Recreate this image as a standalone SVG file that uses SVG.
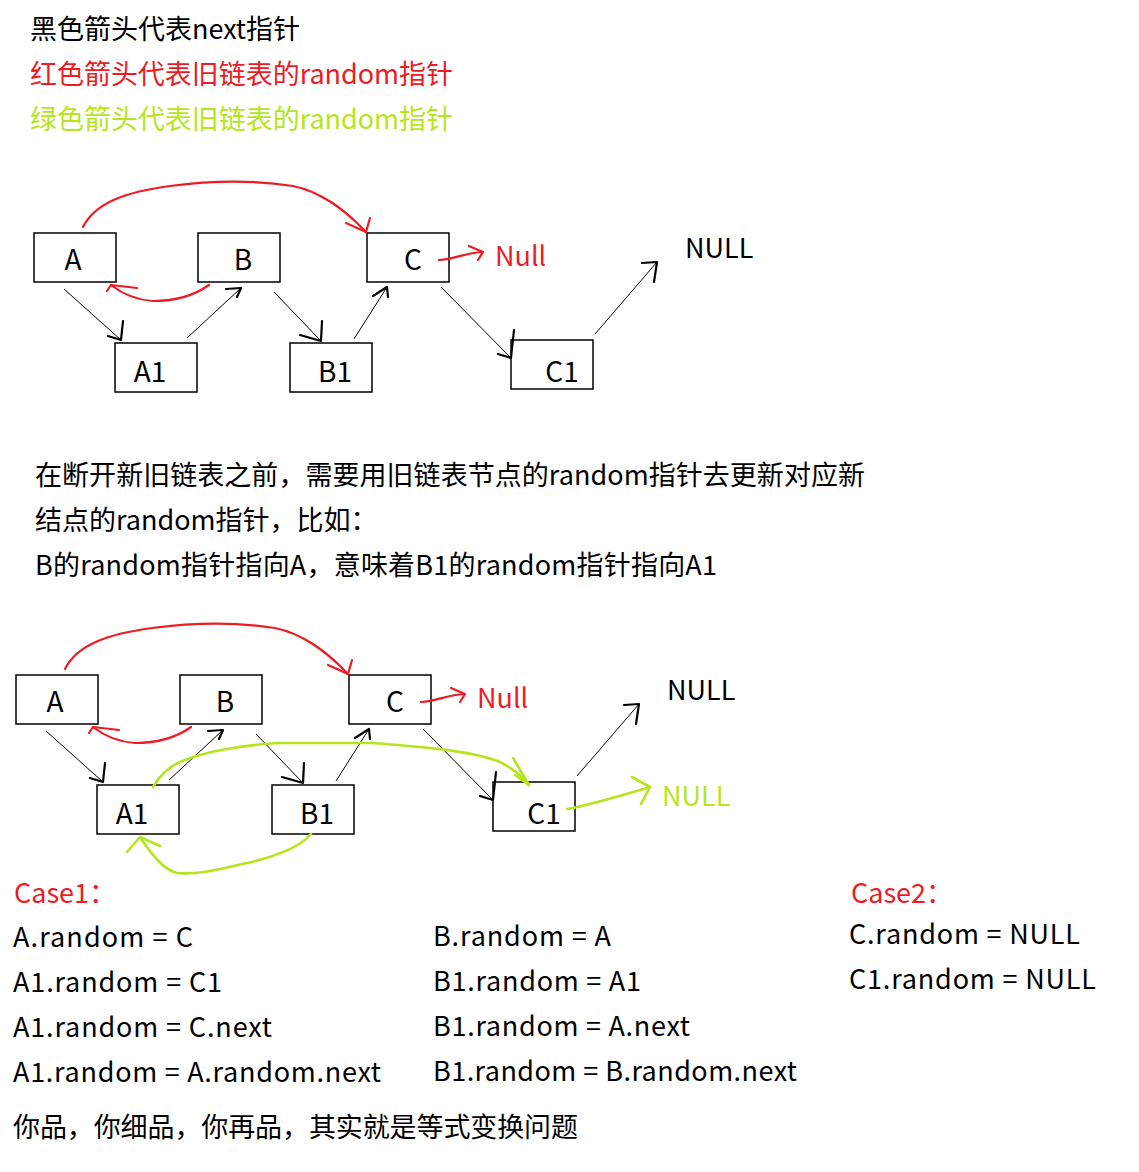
<svg xmlns="http://www.w3.org/2000/svg" width="1139" height="1172" viewBox="0 0 1139 1172">
<style>
text{font-family:"Noto Sans CJK SC","Noto Sans",sans-serif;font-size:27px;fill:#000}
.r{fill:#ED1C24}
.g{fill:#B5E61D}
.lbl{font-size:28px;text-anchor:middle}
.box{fill:#fff;stroke:#000;stroke-width:1.5}
.ln{fill:none;stroke:#000;stroke-width:1}
.ah{fill:none;stroke:#000;stroke-width:2.2;stroke-linecap:round;stroke-linejoin:round}
.red{fill:none;stroke:#ED1C24;stroke-width:2.2;stroke-linecap:round;stroke-linejoin:round}
.grn{fill:none;stroke:#B5E61D;stroke-width:2.6;stroke-linecap:round;stroke-linejoin:round}
</style>
<rect width="1139" height="1172" fill="#fff"/>
<g id="legend">
<text x="30" y="39" textLength="270">黑色箭头代表next指针</text>
<text x="30" y="84" class="r" textLength="423">红色箭头代表旧链表的random指针</text>
<text x="30" y="129" class="g" textLength="423">绿色箭头代表旧链表的random指针</text>
</g>
<g id="d1-A"><rect class="box" x="34" y="233" width="82" height="49"/><text class="lbl" x="73" y="270">A</text></g>
<g id="d1-B"><rect class="box" x="198" y="233" width="82" height="49"/><text class="lbl" x="243" y="270">B</text></g>
<g id="d1-C"><rect class="box" x="367" y="233" width="82" height="49"/><text class="lbl" x="413" y="270">C</text></g>
<g id="d1-A1"><rect class="box" x="115" y="343" width="82" height="49"/><text class="lbl" x="150" y="382">A1</text></g>
<g id="d1-B1"><rect class="box" x="290" y="343" width="82" height="49"/><text class="lbl" x="335" y="382">B1</text></g>
<g id="d1-C1"><rect class="box" x="511" y="340" width="82" height="49"/><text class="lbl" x="562" y="382">C1</text></g>
<g id="d1-null-red"><text class="r" x="495" y="266">Null</text></g>
<g id="d1-null"><text x="685" y="258">NULL</text></g>
<g id="connectors-1">
<path class="ln" d="M64,289 L121,340"/><path class="ah" d="M123,321 L121,340 L108,336"/>
<path class="ln" d="M187,338 L241,288"/><path class="ah" d="M226,289 L241,288 L237,297"/>
<path class="ln" d="M274,292 L321,341"/><path class="ah" d="M322,321 L321,341 L300,335"/>
<path class="ln" d="M354,339 L387,287"/><path class="ah" d="M373,296 L387,287 L388,297"/>
<path class="ln" d="M441,287 L511,358"/><path class="ah" d="M514,330 L511,358 L498,354"/>
<path class="ln" d="M595,334 L657,262"/><path class="ah" d="M642,263 L657,262 L654,282"/>
<path class="red" d="M83,227 C95,203 125,192 170,186 S255,180 293,186 C322,192 345,210 366,232"/>
<path class="red" d="M370,218 L366,232 L346,223"/>
<path class="red" d="M209,285 C195,295 175,301 153,301 C135,300 120,292 111,285"/>
<path class="red" d="M107,291 L111,285 L137,288"/>
<path class="red" d="M439,260 C455,259 465,253 482,252"/>
<path class="red" d="M469,246 L483,252 L478,260"/>
</g>
<g id="para">
<text x="35" y="485" textLength="830">在断开新旧链表之前，需要用旧链表节点的random指针去更新对应新</text>
<text x="35" y="530">结点的random指针，比如：</text>
<text x="35" y="575" textLength="682">B的random指针指向A，意味着B1的random指针指向A1</text>
</g>
<g id="d2-A"><rect class="box" x="16" y="675" width="82" height="49"/><text class="lbl" x="55" y="712">A</text></g>
<g id="d2-B"><rect class="box" x="180" y="675" width="82" height="49"/><text class="lbl" x="225" y="712">B</text></g>
<g id="d2-C"><rect class="box" x="349" y="675" width="82" height="49"/><text class="lbl" x="395" y="712">C</text></g>
<g id="d2-A1"><rect class="box" x="97" y="785" width="82" height="49"/><text class="lbl" x="132" y="824">A1</text></g>
<g id="d2-B1"><rect class="box" x="272" y="785" width="82" height="49"/><text class="lbl" x="317" y="824">B1</text></g>
<g id="d2-C1"><rect class="box" x="493" y="782" width="82" height="49"/><text class="lbl" x="544" y="824">C1</text></g>
<g id="d2-null-red"><text class="r" x="477" y="708">Null</text></g>
<g id="d2-null"><text x="667" y="700">NULL</text></g>
<g id="d2-null-green"><text class="g" x="662" y="806">NULL</text></g>
<g id="connectors-2">
<g transform="translate(-18,442)">
<path class="ln" d="M64,289 L121,340"/><path class="ah" d="M123,321 L121,340 L108,336"/>
<path class="ln" d="M187,338 L241,288"/><path class="ah" d="M226,289 L241,288 L237,297"/>
<path class="ln" d="M274,292 L321,341"/><path class="ah" d="M322,321 L321,341 L300,335"/>
<path class="ln" d="M354,339 L387,287"/><path class="ah" d="M373,296 L387,287 L388,297"/>
<path class="ln" d="M441,287 L511,358"/><path class="ah" d="M514,330 L511,358 L498,354"/>
<path class="ln" d="M595,334 L657,262"/><path class="ah" d="M642,263 L657,262 L654,282"/>
<path class="red" d="M83,227 C95,203 125,192 170,186 S255,180 293,186 C322,192 345,210 366,232"/>
<path class="red" d="M370,218 L366,232 L346,223"/>
<path class="red" d="M209,285 C195,295 175,301 153,301 C135,300 120,292 111,285"/>
<path class="red" d="M107,291 L111,285 L137,288"/>
<path class="red" d="M439,260 C455,259 465,253 482,252"/>
<path class="red" d="M469,246 L483,252 L478,260"/>
</g>
<path class="grn" d="M153,787 C160,775 170,765 185,760 C205,752 240,745 280,743 L373,743 C420,747 470,750 500,762 C512,768 522,776 529,785"/>
<path class="grn" d="M513,758 L529,785 L515,775"/>
<path class="grn" d="M311,834 C300,848 270,858 247,863 C225,868 200,875 177,873 C163,870 150,852 140,837"/>
<path class="grn" d="M127,852 L140,837 L160,846"/>
<path class="grn" d="M567,809 C590,805 613,798 650,787"/>
<path class="grn" d="M632,777 L650,787 L641,804"/>
</g>
<g id="cases">
<text class="r" x="14" y="903">Case1：</text>
<text x="13" y="947" textLength="180">A.random = C</text>
<text x="13" y="992" textLength="209">A1.random = C1</text>
<text x="13" y="1037" textLength="259">A1.random = C.next</text>
<text x="13" y="1082" textLength="368">A1.random = A.random.next</text>
<text x="433" y="946" textLength="178">B.random = A</text>
<text x="433" y="991" textLength="208">B1.random = A1</text>
<text x="433" y="1036" textLength="257">B1.random = A.next</text>
<text x="433" y="1081" textLength="364">B1.random = B.random.next</text>
<text class="r" x="851" y="903">Case2：</text>
<text x="849" y="944" textLength="231">C.random = NULL</text>
<text x="849" y="989" textLength="247">C1.random = NULL</text>
<text x="13" y="1137" textLength="565">你品，你细品，你再品，其实就是等式变换问题</text>
</g>
</svg>
